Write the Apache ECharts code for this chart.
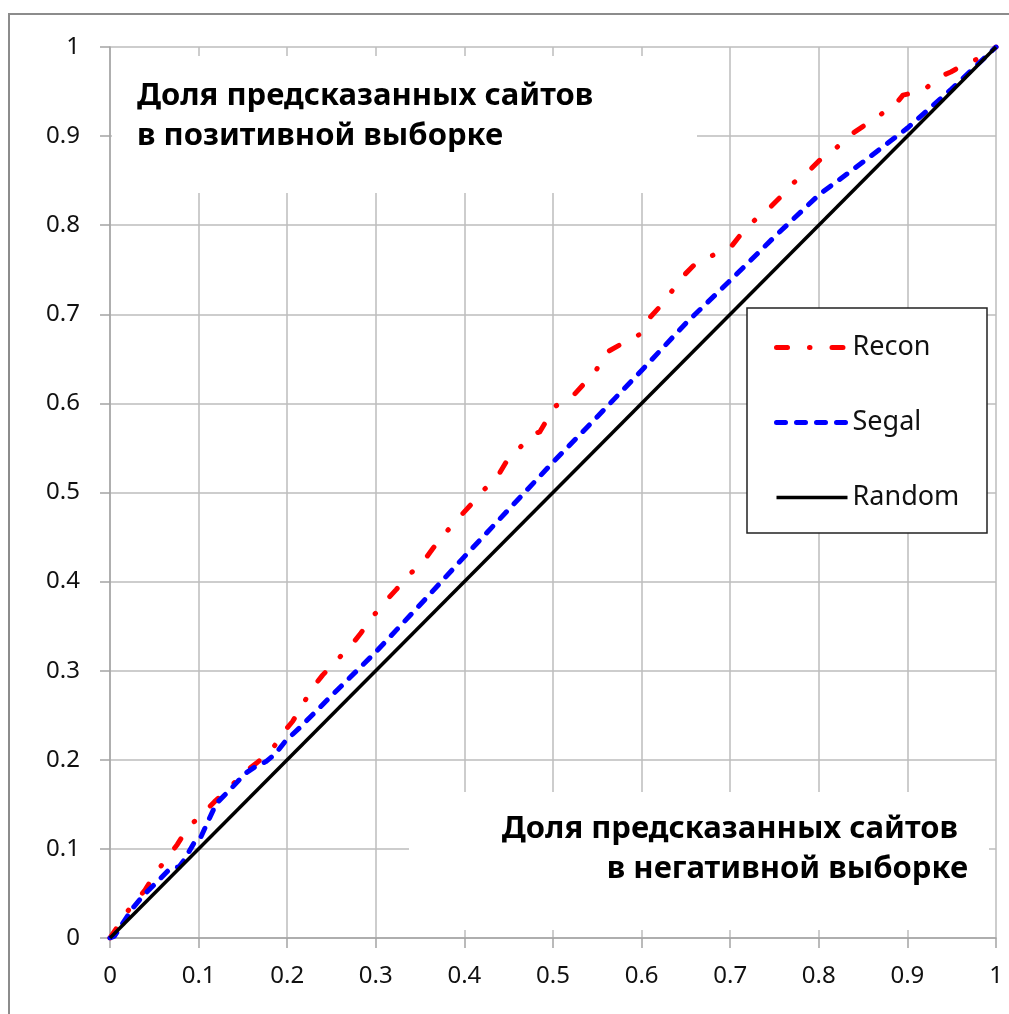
<!DOCTYPE html>
<html>
<head>
<meta charset="utf-8">
<script src="https://cdn.jsdelivr.net/npm/echarts@6/dist/echarts.min.js"></script>
<style>html,body{margin:0;padding:0;background:#fff}#c{width:1009px;height:1014px}</style>
</head>
<body>
<div id="c"></div>
<script>
var seriesNames = ['Recon', 'Segal', 'Random'];
var reconPoints = [
  [0,0],[0.014,0.021],[0.026,0.039],[0.039,0.053],[0.051,0.072],[0.063,0.088],[0.076,0.105],
  [0.088,0.124],[0.103,0.138],[0.118,0.153],[0.133,0.167],[0.153,0.187],[0.165,0.196],[0.182,0.210],
  [0.195,0.230],[0.206,0.243],[0.217,0.261],[0.228,0.280],[0.240,0.295],[0.255,0.311],[0.271,0.327],
  [0.283,0.342],[0.296,0.360],[0.310,0.377],[0.323,0.391],[0.338,0.408],[0.354,0.423],[0.365,0.438],
  [0.379,0.455],[0.394,0.472],[0.407,0.486],[0.422,0.503],[0.438,0.519],[0.447,0.534],[0.462,0.550],
  [0.479,0.566],[0.485,0.568],[0.491,0.578],[0.503,0.597],[0.523,0.609],[0.535,0.622],[0.548,0.636],
  [0.560,0.657],[0.576,0.666],[0.599,0.678],[0.609,0.696],[0.621,0.709],[0.635,0.727],[0.649,0.745],
  [0.662,0.758],[0.682,0.767],[0.702,0.777],[0.713,0.791],[0.728,0.806],[0.745,0.820],[0.758,0.833],
  [0.772,0.848],[0.790,0.862],[0.801,0.873],[0.820,0.887],[0.835,0.901],[0.850,0.911],[0.868,0.923],
  [0.886,0.935],[0.895,0.946],[0.918,0.951],[0.935,0.966],[0.949,0.972],[0.967,0.982],[0.986,0.989],
  [1,1]
];
var segalPoints = [
  [0,0],[0.005,0.002],[0.016,0.019],[0.026,0.034],[0.037,0.047],[0.052,0.062],[0.067,0.077],
  [0.078,0.080],[0.084,0.088],[0.095,0.107],[0.101,0.110],[0.120,0.151],[0.135,0.166],[0.153,0.185],
  [0.165,0.193],[0.176,0.198],[0.187,0.207],[0.198,0.221],[0.214,0.236],[0.25,0.272],[0.30,0.321],
  [0.35,0.374],[0.40,0.428],[0.45,0.481],[0.50,0.534],[0.55,0.585],[0.60,0.637],[0.65,0.690],
  [0.70,0.738],[0.75,0.787],[0.80,0.834],[0.85,0.871],[0.90,0.909],[0.95,0.953],[1,1]
];
var randomPoints = [[0,0],[1,1]];
var axisMin = 0, axisMax = 1, axisStep = 0.1;
var topNoteLines = ['Доля предсказанных сайтов', 'в позитивной выборке'];
var bottomNoteLines = ['Доля предсказанных сайтов', 'в негативной выборке'];

var chart = echarts.init(document.getElementById('c'));
var FONT = '"Noto Sans", "DejaVu Sans", sans-serif';
var gridColor = '#bcbcbc';
var axisColor = '#a4a4a4';

var reconLine = { color: '#ff0000', width: 5, type: [11, 22, 0.5, 22], cap: 'round', join: 'round' };
var segalLine = { color: '#0000ff', width: 5, type: [9, 11], cap: 'round', join: 'round' };
var randomLine = { color: '#000000', width: 3.5, type: 'solid', cap: 'butt' };
var styles = [reconLine, segalLine, randomLine];

function valueAxis(isX) {
  return {
    type: 'value', min: axisMin, max: axisMax, interval: axisStep, z: 0,
    axisLine: { show: true, onZero: false, lineStyle: { color: axisColor, width: 1.5 } },
    axisTick: { show: true, length: 10, lineStyle: { color: axisColor, width: 1.5 } },
    splitLine: { show: true, lineStyle: { color: gridColor, width: 1.5 } },
    axisLabel: { color: '#111', fontSize: 24, fontFamily: FONT, margin: isX ? 26 : 30 }
  };
}

var titleFont = 'bold 31px ' + FONT;
var option = {
  animation: false,
  backgroundColor: '#fff',
  grid: { left: 110, right: 13, top: 47, bottom: 76, containLabel: false },
  xAxis: valueAxis(true),
  yAxis: valueAxis(false),
  legend: {
    orient: 'vertical', left: 769, top: 329, itemWidth: 71, itemHeight: 14, itemGap: 48,
    z: 6,
    data: seriesNames.map(function (n, i) {
      return { name: n, lineStyle: styles[i], itemStyle: { color: 'rgba(0,0,0,0)', opacity: 0, borderWidth: 0 } };
    }),
    textStyle: { fontSize: 27, lineHeight: 27, fontFamily: FONT, color: '#111' }
  },
  graphic: [
    { type: 'rect', z: 1, silent: true, shape: { x: 9, y: 14, width: 1100, height: 1100 },
      style: { fill: 'none', stroke: '#8c8c8c', lineWidth: 2 } },
    { type: 'rect', z: 1, silent: true, shape: { x: 112, y: 56, width: 585, height: 137 },
      style: { fill: '#fff' } },
    { type: 'rect', z: 1, silent: true, shape: { x: 409, y: 792, width: 580, height: 138 },
      style: { fill: '#fff' } },
    { type: 'rect', z: 5, silent: true, shape: { x: 747, y: 308, width: 240, height: 225 },
      style: { fill: '#fff', stroke: '#222', lineWidth: 1.5 } },
    { type: 'text', z: 7, left: 137, top: 81, style: { text: topNoteLines[0], font: titleFont, fill: '#000' } },
    { type: 'text', z: 7, left: 137, top: 121, style: { text: topNoteLines[1], font: titleFont, fill: '#000' } },
    { type: 'text', z: 7, right: 1009 - 958, top: 814, style: { text: bottomNoteLines[0], font: titleFont, fill: '#000' } },
    { type: 'text', z: 7, right: 1009 - 968, top: 854, style: { text: bottomNoteLines[1], font: titleFont, fill: '#000' } }
  ],
  series: [
    { name: seriesNames[0], type: 'line', data: reconPoints, showSymbol: false, symbol: 'none', z: 3,
      lineStyle: reconLine, itemStyle: { color: reconLine.color } },
    { name: seriesNames[1], type: 'line', data: segalPoints, showSymbol: false, symbol: 'none', z: 3,
      lineStyle: segalLine, itemStyle: { color: segalLine.color } },
    { name: seriesNames[2], type: 'line', data: randomPoints, showSymbol: false, symbol: 'none', z: 3,
      lineStyle: randomLine, itemStyle: { color: randomLine.color } }
  ]
};
chart.setOption(option);
</script>
</body>
</html>
